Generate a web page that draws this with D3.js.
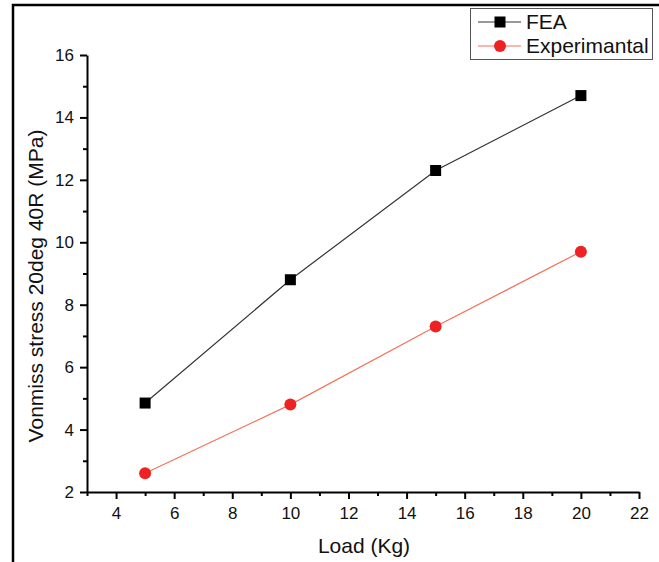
<!DOCTYPE html>
<html>
<head>
  <meta charset="UTF-8" />
  <script src="https://d3js.org/d3.v7.min.js"></script>
  <style>
    body { margin: 0; background: #fff; }
    svg { display: block; font-family: "Liberation Sans", Arial, sans-serif; }
  </style>
</head>
<body>
  <div id="chart"></div>
  <script>
    const loads = [5, 10, 15, 20];
    const feaValues = [4.85, 8.8, 12.3, 14.7];
    const expValues = [2.6, 4.8, 7.3, 9.7];
    const xTicks = [4, 6, 8, 10, 12, 14, 16, 18, 20, 22];
    const yTicks = [2, 4, 6, 8, 10, 12, 14, 16];

    const W = 659, H = 562;
    const svg = d3.select("#chart").append("svg")
      .attr("width", W).attr("height", H);

    // frame round the picture (top and left only)
    svg.append("path")
      .attr("d", "M13,562 L13,5 L659,5")
      .attr("fill", "none")
      .attr("stroke", "#000")
      .attr("stroke-width", 2.5);

    const x = d3.scaleLinear().domain([3, 22]).range([87, 639]);
    const y = d3.scaleLinear().domain([2, 16]).range([492, 55]);

    // minor ticks
    const xMinor = d3.range(3, 22, 2);
    const yMinor = d3.range(3, 16, 2);

    const gx = svg.append("g").attr("transform", `translate(0,${y(2)})`);
    gx.call(d3.axisBottom(x).tickValues(xTicks).tickSize(7).tickSizeOuter(0).tickPadding(8));
    gx.append("g").call(d3.axisBottom(x).tickValues(xMinor).tickSize(4).tickFormat(""))
      .select(".domain").remove();

    const gy = svg.append("g").attr("transform", `translate(${x(3)},0)`);
    gy.call(d3.axisLeft(y).tickValues(yTicks).tickSize(7).tickSizeOuter(0).tickPadding(6));
    gy.append("g").call(d3.axisLeft(y).tickValues(yMinor).tickSize(4).tickFormat(""))
      .select(".domain").remove();

    svg.selectAll(".domain, .tick line").attr("stroke", "#000").attr("stroke-width", 2);
    svg.selectAll(".tick text").attr("font-size", 17).attr("fill", "#111")
      .attr("font-family", "'Liberation Sans', Arial, sans-serif");

    // axis titles
    svg.append("text")
      .attr("x", 364).attr("y", 553)
      .attr("text-anchor", "middle")
      .attr("font-size", 21)
      .attr("fill", "#111")
      .text("Load (Kg)");

    svg.append("text")
      .attr("transform", "translate(43,286) rotate(-90)")
      .attr("text-anchor", "middle")
      .attr("font-size", 21)
      .attr("fill", "#111")
      .text("Vonmiss stress 20deg 40R (MPa)");

    const line = d3.line().x(d => x(d[0])).y(d => y(d[1]));
    const fea = loads.map((l, i) => [l, feaValues[i]]);
    const exp = loads.map((l, i) => [l, expValues[i]]);

    svg.append("path").attr("d", line(fea))
      .attr("fill", "none").attr("stroke", "#333").attr("stroke-width", 1.2);
    svg.append("path").attr("d", line(exp))
      .attr("fill", "none").attr("stroke", "#f5725a").attr("stroke-width", 1.2);

    svg.selectAll(".sq").data(fea).enter().append("rect")
      .attr("x", d => x(d[0]) - 5.5).attr("y", d => y(d[1]) - 5.5)
      .attr("width", 11).attr("height", 11).attr("fill", "#000");

    svg.selectAll(".dot").data(exp).enter().append("circle")
      .attr("cx", d => x(d[0])).attr("cy", d => y(d[1]))
      .attr("r", 6).attr("fill", "#ee2222");

    // legend
    const lg = svg.append("g");
    lg.append("rect")
      .attr("x", 470.5).attr("y", 8.5).attr("width", 182).attr("height", 51)
      .attr("fill", "#fff").attr("stroke", "#555").attr("stroke-width", 1);
    lg.append("line").attr("x1", 478).attr("x2", 521).attr("y1", 22).attr("y2", 22)
      .attr("stroke", "#333").attr("stroke-width", 1.2);
    lg.append("rect").attr("x", 494.5).attr("y", 16.5).attr("width", 11).attr("height", 11).attr("fill", "#000");
    lg.append("line").attr("x1", 478).attr("x2", 521).attr("y1", 46).attr("y2", 46)
      .attr("stroke", "#f5725a").attr("stroke-width", 1.2);
    lg.append("circle").attr("cx", 500).attr("cy", 46).attr("r", 6).attr("fill", "#ee2222");
    lg.append("text").attr("x", 526).attr("y", 29).attr("font-size", 21).attr("fill", "#111").text("FEA");
    lg.append("text").attr("x", 526).attr("y", 53).attr("font-size", 21).attr("fill", "#111").text("Experimantal");
  </script>
</body>
</html>
